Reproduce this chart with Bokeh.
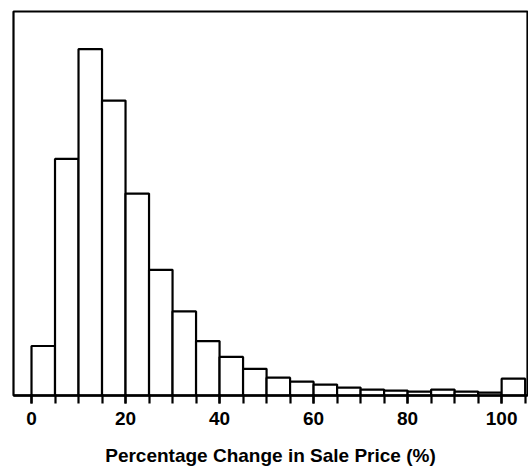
from bokeh.plotting import figure
from bokeh.models import FixedTicker, Range1d
from bokeh.embed import file_html
from bokeh.resources import INLINE

# Histogram data: bins of 5 percentage points
bin_left = [0, 5, 10, 15, 20, 25, 30, 35, 40, 45, 50, 55, 60, 65, 70, 75, 80, 85, 90, 95, 100]
bin_width = 5
counts = [50, 239, 350, 298, 204, 127, 85, 55, 39, 27, 18, 14, 11, 8, 6, 5, 4, 6, 4, 3, 17]
major_ticks = [0, 20, 40, 60, 80, 100]
minor_ticks = list(range(0, 106, 5))
x_title = "Percentage Change in Sale Price (%)"

bin_right = [b + bin_width for b in bin_left]
bottoms = [0] * len(counts)

p = figure(width=528, height=468, output_backend="svg", toolbar_location=None,
           x_range=Range1d(-3.83, 105.5), y_range=Range1d(0, 388),
           y_axis_location=None,
           min_border_left=13, min_border_right=1, min_border_top=11, min_border_bottom=70)

p.quad(left=bin_left, right=bin_right, top=counts, bottom=bottoms,
       fill_color="white", line_color="black", line_width=2.2)

p.grid.visible = False
p.outline_line_color = "black"
p.outline_line_width = 2.2
p.outline_line_alpha = 1

ax = p.xaxis[0]
ax.ticker = FixedTicker(ticks=major_ticks, minor_ticks=minor_ticks)
ax.axis_line_width = 2.5
ax.axis_line_color = "black"
ax.major_tick_line_width = 2.2
ax.minor_tick_line_width = 2.2
ax.major_tick_out = 8
ax.major_tick_in = 1
ax.minor_tick_out = 8
ax.minor_tick_in = 1
ax.major_label_text_font = "Liberation Sans"
ax.major_label_text_font_size = "19px"
ax.major_label_text_font_style = "bold"
ax.major_label_text_color = "black"
ax.major_label_standoff = 8
ax.axis_label = x_title
ax.axis_label_text_font = "Liberation Sans"
ax.axis_label_text_font_size = "19px"
ax.axis_label_text_font_style = "bold"
ax.axis_label_text_color = "black"
ax.axis_label_standoff = 17

open("out.html", "w").write(file_html(p, INLINE))
